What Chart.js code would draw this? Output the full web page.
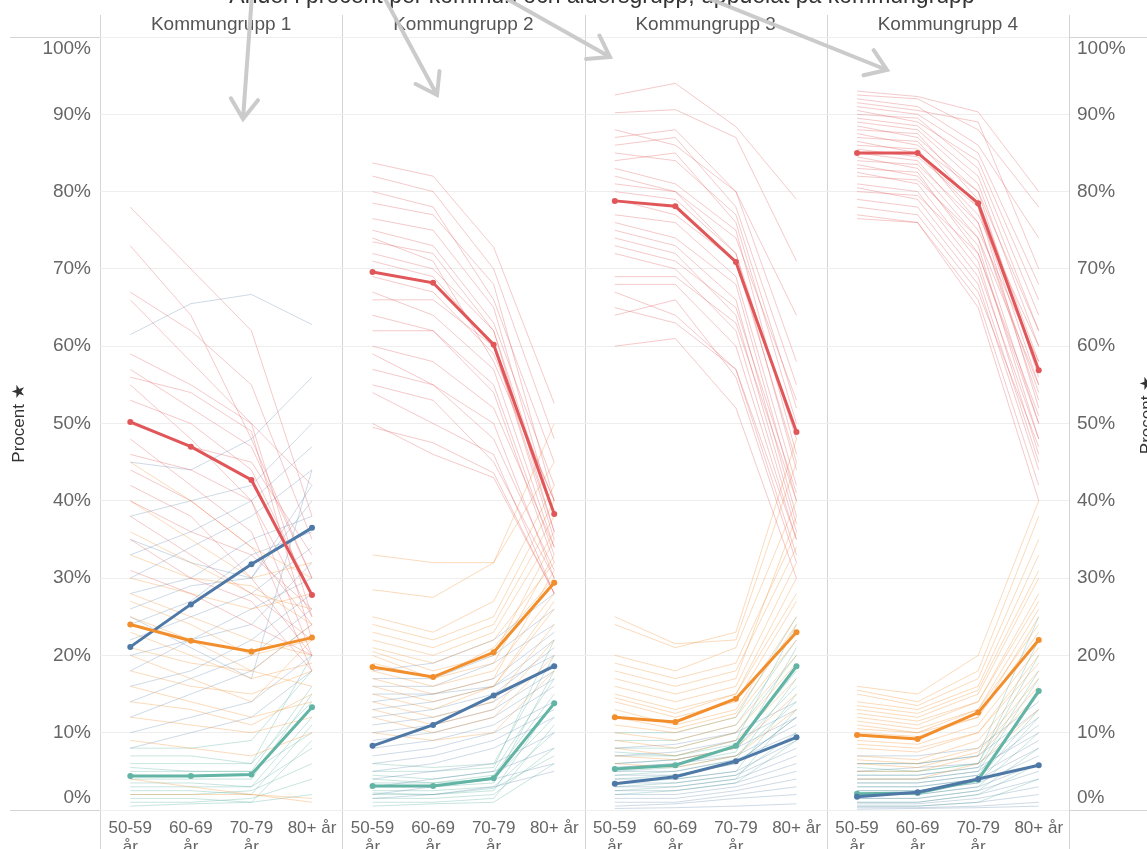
<!DOCTYPE html>
<html>
<head>
<meta charset="utf-8">
<script src="https://cdn.jsdelivr.net/npm/chart.js@4.4.1/dist/chart.umd.min.js"></script>
<style>
  html, body { margin: 0; padding: 0; background: #fff; }
  .wrap { width: 1147px; height: 849px; position: relative; }
</style>
</head>
<body>
<div class="wrap"><canvas id="chart"></canvas></div>
<script>
const ageGroups = ['50-59 år', '60-69 år', '70-79 år', '80+ år']
const groups = ['Kommungrupp 1', 'Kommungrupp 2', 'Kommungrupp 3', 'Kommungrupp 4']
const yTicks = [0, 10, 20, 30, 40, 50, 60, 70, 80, 90, 100]

// group averages (bold lines), one row per kommungrupp
const avgRed = [[50.2, 47.0, 42.7, 27.8], [69.6, 68.2, 60.2, 38.3], [78.8, 78.1, 70.9, 48.9], [85.0, 85.0, 78.5, 56.9]]
const avgOrange = [[24.0, 21.9, 20.5, 22.3], [18.5, 17.2, 20.4, 29.4], [12.0, 11.4, 14.4, 23.0], [9.7, 9.2, 12.6, 22.0]]
const avgBlue = [[21.1, 26.6, 31.8, 36.5], [8.3, 11.0, 14.8, 18.6], [3.4, 4.3, 6.3, 9.4], [1.7, 2.3, 4.0, 5.8]]
const avgTeal = [[4.4, 4.4, 4.6, 13.3], [3.1, 3.1, 4.1, 13.8], [5.3, 5.8, 8.3, 18.6], [2.1, 2.2, 3.9, 15.4]]

// single kommuner (faint lines), grouped per kommungrupp
const kommunRed = [
  [[78, 70, 62, 38], [73, 64, 48, 30], [67, 62, 55, 35], [66, 58, 50, 25], [59, 55, 50, 42], [57, 52, 47, 30],
   [56, 54, 49, 22], [55, 48, 40, 20], [53, 50, 44, 28], [50, 47, 45, 33], [48, 42, 36, 18], [46, 44, 40, 25],
   [44, 40, 34, 24], [42, 38, 30, 20], [40, 36, 33, 26], [38, 33, 28, 22], [35, 30, 27, 18], [31, 28, 24, 20]],
  [[83.7, 82, 72.8, 52.6], [82, 80, 70, 48], [80, 78, 66, 45], [78.5, 77, 68, 40], [76.5, 75, 65, 38], [75, 73, 63, 42],
   [74, 71, 58, 40], [73.5, 72, 62, 36], [72, 70, 62, 38], [71, 69, 60, 35], [69, 67, 59, 40], [67, 64, 57, 34],
   [66, 66, 60, 36], [64, 62, 55, 33], [62, 62, 54, 32], [60, 58, 52, 34], [59, 55, 50, 30], [57, 55, 48, 31],
   [55, 53, 45, 30], [54, 50, 46, 28], [50, 46, 43, 28], [49.5, 47.5, 43.6, 28]],
  [[92.5, 94, 88.4, 79], [90.2, 90.6, 87, 71], [88, 86, 80, 64], [87, 88, 80, 58], [86, 87, 78, 55], [85, 84, 77, 52],
   [84, 85, 76, 50], [83, 81, 75, 46], [82, 80, 72, 48], [81, 80, 74, 53], [80, 79, 72, 44], [79, 77, 71, 45],
   [77, 76, 69, 42], [76, 74, 68, 40], [75, 73, 66, 38], [74, 72, 64, 37], [73, 71, 65, 41], [72, 70, 62, 36],
   [69, 69, 63, 40], [68, 68, 60, 35], [67, 64, 57, 33], [65, 63, 57, 35], [64, 66, 56, 32], [60, 61, 52, 30]],
  [[93, 92.3, 90.3, 80], [92.5, 92, 88, 78], [92, 91, 86, 74], [91.5, 90.5, 89, 70], [91, 90, 85, 68], [90.5, 89, 84, 66],
   [90, 89.5, 83, 64], [89.5, 88.5, 82, 62], [89, 88, 81, 60], [88.5, 87, 80, 62], [88, 87.5, 79, 58], [87.5, 86, 80, 56],
   [87, 86.5, 78, 55], [86.5, 85, 77, 60], [86, 85.5, 76, 54], [85.5, 84.5, 78, 52], [85, 84, 75, 58], [84.5, 83, 74, 50],
   [84, 83.5, 76, 53], [83.5, 82, 73, 48], [83, 82.5, 72, 51], [82.5, 81, 71, 46], [82, 81.5, 74, 55], [81, 80, 70, 48],
   [80.5, 79, 69, 45], [80, 79.5, 72, 50], [79, 78, 68, 44], [78, 77, 67, 47], [77, 76, 66, 42], [76.5, 76, 65, 40]],
]
const kommunOrange = [
  [[45, 40, 34, 30], [40, 35, 30, 32], [36, 32, 28, 26], [33, 30, 29, 24], [30, 28, 26, 28], [28, 25, 22, 20],
   [27, 24, 20, 22], [25, 22, 18, 24], [23, 20, 17, 19], [21, 19, 18, 16], [20, 17, 14, 22], [18, 16, 15, 18],
   [16, 14, 12, 14], [14, 13, 11, 15], [12, 11, 10, 12], [9, 8, 7, 10], [4, 3, 2, 1.5], [2, 2, 2, 1]],
  [[33, 32, 32, 50], [28.5, 27.5, 32, 45], [25, 23, 27, 42], [24, 22, 25, 40], [23, 21, 24, 38], [22, 20, 23, 36],
   [21, 19, 22, 32], [20.5, 18, 20, 35], [20, 17, 21, 30], [19, 17, 19, 33], [18, 16, 18, 28], [17, 15, 17, 31],
   [16, 14, 16, 26], [15, 13, 16, 27], [14, 12, 14, 24], [13, 11, 13, 22], [12, 10, 12, 20], [10, 9, 10, 18]],
  [[25, 21.5, 22, 45], [24, 21, 23, 48], [20, 18, 21, 40], [19, 17, 19, 36], [18, 16, 18, 34], [17, 15, 17, 38],
   [16, 14, 16, 32], [15, 13, 15, 30], [14.5, 12.5, 15, 28], [14, 12, 14, 27], [13, 11, 13, 25], [12, 10.5, 12.5, 24],
   [11, 10, 12, 22], [10, 9, 11, 20], [9, 8, 10, 19], [8, 7, 9, 17], [7, 6.5, 8, 15], [6, 5.5, 7, 13]],
  [[16, 15, 20, 40], [15.5, 14, 18, 38], [15, 13.5, 17, 35], [14, 13, 16, 33], [13.5, 12.5, 15.5, 31], [13, 12, 15, 30],
   [12.5, 11.5, 14, 28], [12, 11, 14, 27], [11.5, 10.5, 13, 26], [11, 10, 13, 24], [10.5, 10, 12, 25], [10, 9.5, 12, 23],
   [9, 8.5, 11, 21], [8.5, 8, 10, 20], [8, 7.5, 10, 19], [7, 6.5, 9, 18], [6.5, 6, 8, 17], [6, 5.5, 7.5, 16],
   [5, 5, 7, 15], [4, 4, 6, 13]],
]
const kommunBlue = [
  [[61.5, 65.5, 66.7, 62.8], [45, 44, 48, 56], [38, 40, 42, 50], [35, 32, 30, 40], [33, 36, 40, 47], [30, 34, 38, 44],
   [28, 30, 35, 38], [26, 29, 30, 42], [25, 21, 17, 44], [24, 27, 33, 36], [22, 25, 28, 34], [20, 22, 26, 30],
   [18, 22, 24, 32], [16, 18, 22, 28], [14, 17, 20, 26], [12, 15, 18, 24], [10, 12, 14, 20], [8, 10, 12, 18]],
  [[18, 19, 22, 28], [17, 17, 20, 26], [16, 16, 19, 24], [15, 15, 17, 23], [14, 15, 16, 22], [13, 14, 16, 20],
   [12, 13, 15, 21], [11, 12, 14, 19], [10, 11, 13, 18], [9, 10, 12, 17], [8, 9, 11, 16], [7, 8, 10, 14],
   [6, 7, 9, 13], [5, 6, 8, 12], [4, 5, 6, 10], [3, 4, 5, 8], [2, 3, 4, 6], [1.5, 2, 3, 5]],
  [[8, 8.5, 10, 14], [7, 7.5, 9, 13], [6, 6.5, 8, 12], [5.5, 6, 7, 11], [5, 5, 6.5, 10], [4.5, 4.5, 6, 12],
   [4, 4, 5, 9], [3.5, 3.5, 4.5, 8], [3, 3, 4, 7], [2.5, 2.5, 3.5, 6], [2, 2, 3, 5], [1.5, 1.5, 2.5, 4],
   [1, 1, 2, 3], [0.5, 0.8, 1.5, 2], [0.2, 0.3, 0.5, 0.8]],
  [[7, 7, 8, 14], [6, 6, 7, 13], [5, 5.5, 6, 12], [4.5, 4.5, 5.5, 10], [4, 4, 5, 11], [3.5, 3.5, 4.5, 9],
   [3, 3, 4, 8], [2.5, 2.5, 3.5, 7], [2, 2, 3, 6], [1.5, 1.5, 2.5, 5], [1, 1, 2, 4], [0.8, 0.8, 1.5, 3],
   [0.5, 0.5, 1, 2], [0.3, 0.3, 0.5, 1], [0.1, 0.2, 0.3, 0.5]],
]
const kommunTeal = [
  [[8, 8, 9, 18], [7, 7, 6, 20], [6, 6, 6, 14], [5.5, 5, 5, 16], [5, 5, 5, 10], [4, 4, 4, 15], [3.5, 3.5, 3, 12],
   [3, 3, 3, 8], [2.5, 2.5, 2, 11], [2, 2, 2.5, 6], [1.5, 1.5, 1, 9], [1, 1, 1.5, 4], [0.5, 0.8, 1, 2]],
  [[6, 5.5, 6, 20], [5, 5, 5.5, 22], [4.5, 4, 5, 17], [4, 3.5, 4.5, 15], [3.5, 3.5, 4, 12], [3, 3, 3.5, 18],
   [2.5, 2.5, 3, 10], [2.2, 2, 2.8, 7], [2, 2, 2.5, 14], [1.5, 1.5, 2, 8], [1, 1, 1.5, 11], [0.5, 0.8, 1, 6]],
  [[10, 10, 12, 25], [9, 9, 11, 22], [8, 8, 10, 20], [7.5, 7, 9, 24], [7, 7, 8.5, 18], [6, 6.5, 8, 16], [5.5, 6, 7.5, 21],
   [5, 5.5, 7, 14], [4.5, 5, 6.5, 17], [4, 4.5, 6, 12], [3.5, 4, 5, 15], [3, 3.5, 4.5, 10], [2.5, 3, 4, 13], [2, 2.5, 3.5, 9]],
  [[6, 6, 7, 25], [5.5, 5, 6, 22], [5, 5, 6, 20], [4.5, 4.5, 5.5, 18], [4, 4, 5, 17], [3.5, 3.5, 4.5, 15],
   [3, 3, 4, 13], [2.5, 2.5, 3.5, 12], [2, 2, 3, 10], [1.5, 1.5, 2.5, 8], [1, 1, 2, 6], [0.5, 0.5, 1, 4]],
]

const FONT = '"Liberation Sans", Arial, sans-serif'
const colors = {
  red: ['#e15759', 'rgba(225, 87, 89, 0.32)'],
  orange: ['#f28e2b', 'rgba(242, 142, 43, 0.32)'],
  blue: ['#4e79a7', 'rgba(78, 121, 167, 0.28)'],
  teal: ['#62b4a4', 'rgba(98, 180, 164, 0.35)'],
}

const labels = groups.flatMap(() => ageGroups)

// put one 4-value series into its panel slot, null elsewhere
function spread(panel, values) {
  const data = labels.map(() => null)
  values.forEach((v, i) => { data[panel * 4 + i] = v })
  return data
}

const datasets = []
const faint = [['red', kommunRed], ['orange', kommunOrange], ['blue', kommunBlue], ['teal', kommunTeal]]
const bold = [['red', avgRed], ['orange', avgOrange], ['blue', avgBlue], ['teal', avgTeal]]

groups.forEach((g, p) => {
  for (const [c, rows] of faint) {
    for (const row of rows[p]) {
      datasets.push({
        data: spread(p, row), order: 1,
        borderColor: colors[c][1], borderWidth: 1, pointRadius: 0,
      })
    }
  }
  for (const [c, rows] of bold) {
    datasets.push({
      data: spread(p, rows[p]), order: 0,
      borderColor: colors[c][0], borderWidth: 3,
      pointRadius: 3, pointBackgroundColor: colors[c][0], pointBorderWidth: 0,
    })
  }
})

const yLabel = v => v === 100 ? ['', '100%'] : v === 0 ? ['0%', ''] : v + '%'
const yFont = ctx => ({
  family: FONT, size: 19,
  lineHeight: ctx.tick && (ctx.tick.value === 0 || ctx.tick.value === 100) ? 1.25 : 1.2,
})

const frame = {
  id: 'frame',
  beforeDraw(chart) {
    const {ctx, chartArea: a, scales: {x}} = chart
    const w = chart.width, h = chart.height
    const half = (x.getPixelForValue(1) - x.getPixelForValue(0)) / 2
    ctx.save()
    ctx.strokeStyle = '#d4d4d4'
    ctx.lineWidth = 1
    ctx.beginPath()
    ctx.moveTo(10, a.top + 0.5); ctx.lineTo(w, a.top + 0.5)
    ctx.moveTo(10, a.bottom + 0.5); ctx.lineTo(w, a.bottom + 0.5)
    for (let p = 0; p <= groups.length; p++) {
      const px = Math.round(x.getPixelForValue(p * 4) - half) + 0.5
      ctx.moveTo(px, 15); ctx.lineTo(px, h)
    }
    ctx.stroke()
    ctx.fillStyle = '#555'
    ctx.font = '19px ' + FONT
    ctx.textAlign = 'center'
    ctx.textBaseline = 'middle'
    groups.forEach((g, p) => {
      const cx = (x.getPixelForValue(p * 4) + x.getPixelForValue(p * 4 + 3)) / 2
      ctx.fillText(g, cx, 25)
    })
    // title row, cut off by the top edge
    ctx.fillStyle = '#333'
    ctx.font = '23px ' + FONT
    ctx.textBaseline = 'alphabetic'
    ctx.fillText('Andel i procent per kommun och åldersgrupp, uppdelat på kommungrupp', 602, 3)
    // right axis title, also cut off
    ctx.font = '17px ' + FONT
    ctx.translate(1152, 415)
    ctx.rotate(-Math.PI / 2)
    ctx.fillText('Procent ★', 0, 0)
    ctx.restore()
  },
  afterDraw(chart) {
    const {ctx} = chart
    const arrows = [[252, -5, 243, 119], [383, -5, 437, 95], [500, -5, 610, 57], [700, -5, 887, 70]]
    ctx.save()
    ctx.strokeStyle = 'rgba(200, 200, 200, 0.95)'
    ctx.lineWidth = 4
    ctx.lineCap = 'round'
    for (const [x0, y0, x1, y1] of arrows) {
      const ang = Math.atan2(y1 - y0, x1 - x0)
      ctx.beginPath()
      ctx.moveTo(x0, y0); ctx.lineTo(x1, y1)
      ctx.moveTo(x1 - 24 * Math.cos(ang - 0.6), y1 - 24 * Math.sin(ang - 0.6))
      ctx.lineTo(x1, y1)
      ctx.lineTo(x1 - 24 * Math.cos(ang + 0.6), y1 - 24 * Math.sin(ang + 0.6))
      ctx.stroke()
    }
    ctx.restore()
  },
}

new Chart('chart', {
  type: 'line',
  data: {labels, datasets},
  options: {
    responsive: true,
    maintainAspectRatio: false,
    animation: false,
    layout: {padding: {top: 37}},
    elements: {line: {tension: 0}},
    plugins: {legend: {display: false}, tooltip: {enabled: false}},
    scales: {
      x: {
        offset: true,
        grid: {display: false},
        border: {display: false},
        afterFit: s => { s.height = 39 },
        ticks: {
          autoSkip: false, maxRotation: 0, minRotation: 0, padding: 1,
          color: '#666', font: {family: FONT, size: 17, lineHeight: 1.1},
          callback: (v, i) => labels[i] === '80+ år' ? labels[i] : labels[i].split(' '),
        },
      },
      y: {
        position: 'left', min: 0, max: 100,
        afterBuildTicks: s => { s.ticks = yTicks.map(v => ({value: v})) },
        afterFit: s => { s.width = 100 },
        border: {display: false},
        grid: {color: '#eeeeee', drawTicks: false},
        ticks: {padding: 9, color: '#666', font: yFont, callback: yLabel},
        title: {
          display: true, text: 'Procent ★', color: '#333',
          font: {family: FONT, size: 17}, padding: {top: 9, bottom: 0},
        },
      },
      y2: {
        position: 'right', min: 0, max: 100,
        afterBuildTicks: s => { s.ticks = yTicks.map(v => ({value: v})) },
        afterFit: s => { s.width = 78 },
        border: {display: false},
        grid: {display: false, drawTicks: false},
        ticks: {padding: 8, color: '#666', font: yFont, callback: yLabel},
      },
    },
  },
  plugins: [frame],
})
</script>
</body>
</html>
